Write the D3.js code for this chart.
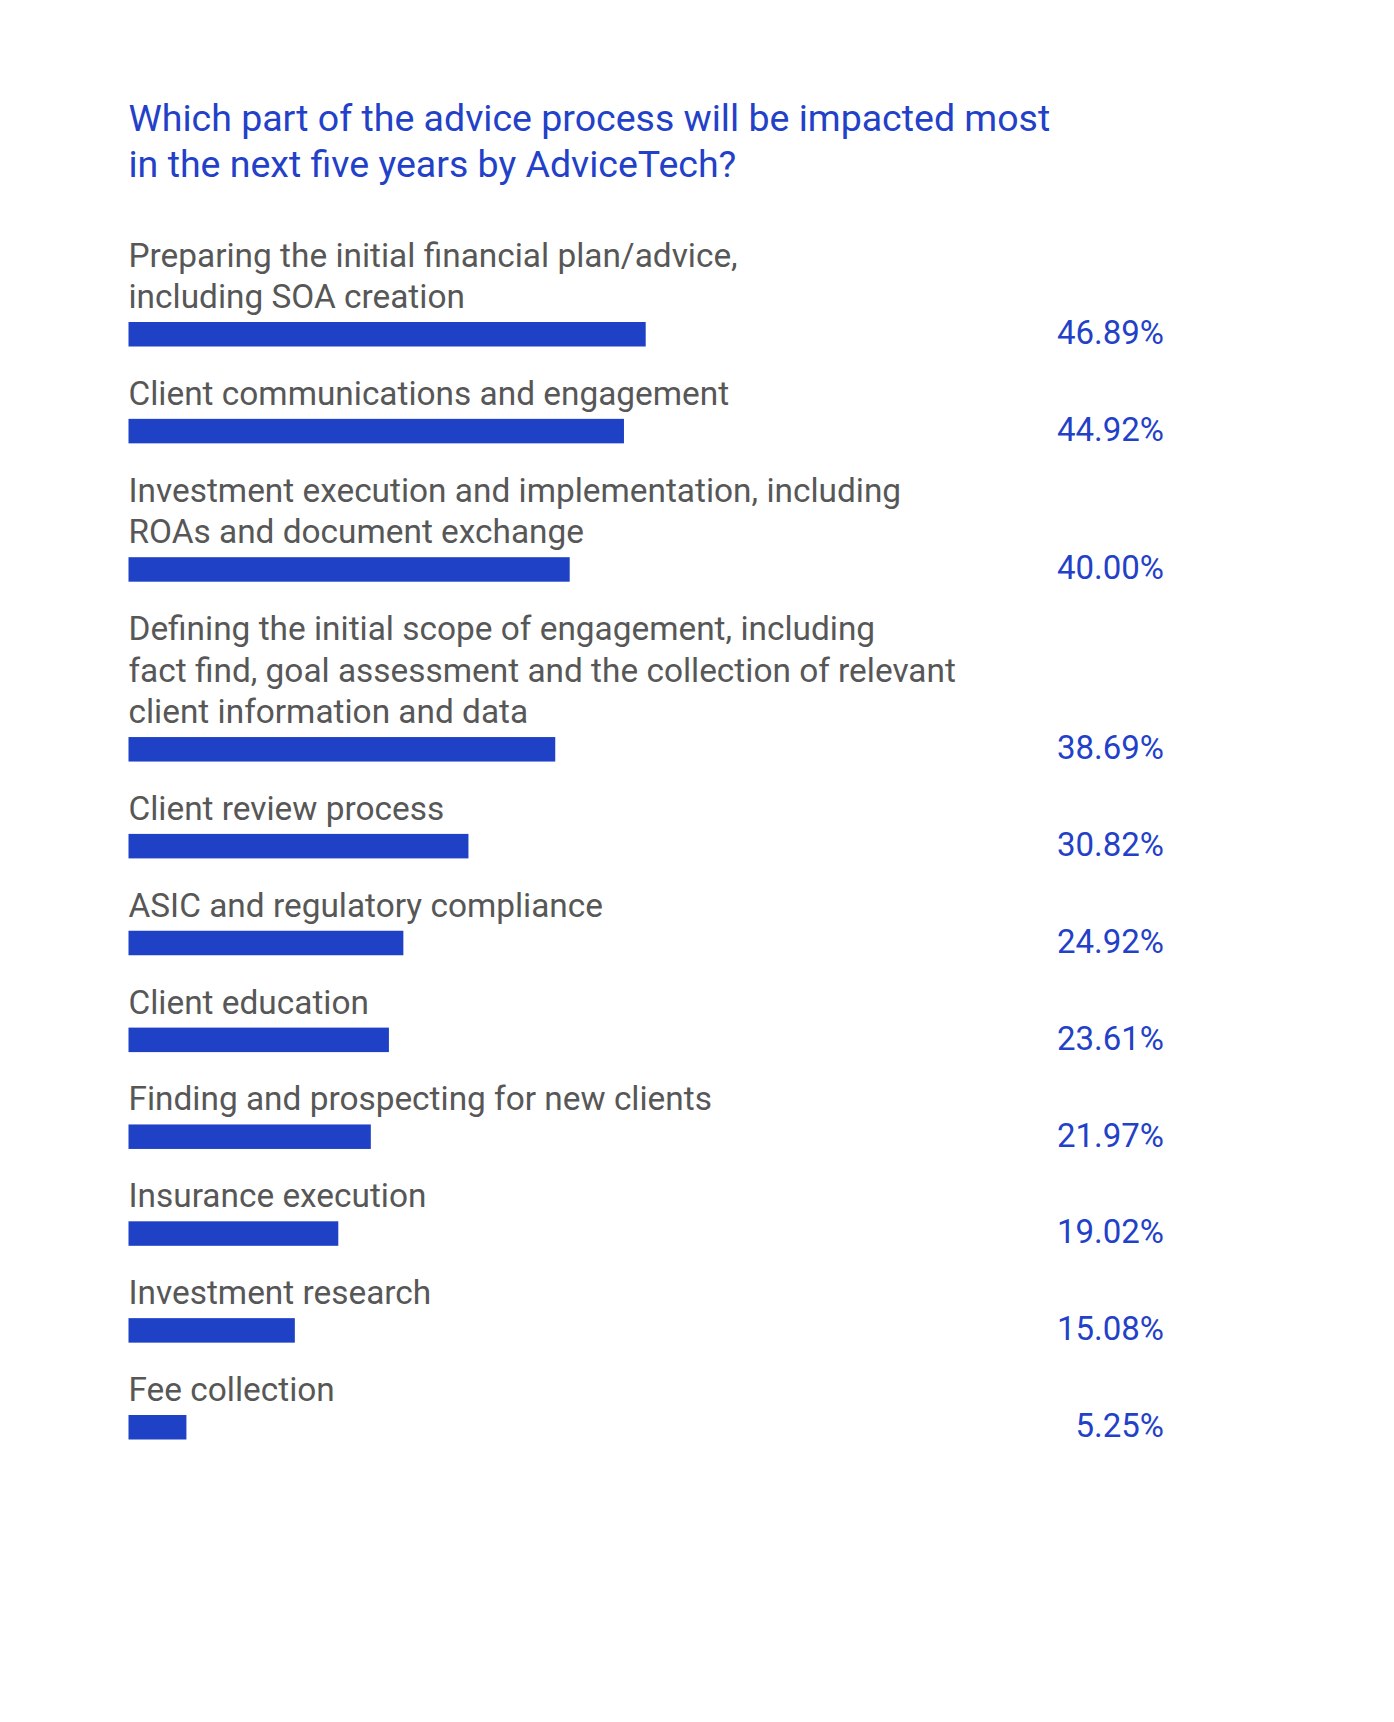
<!DOCTYPE html>
<html>
<head>
<meta charset="utf-8">
<script src="https://cdn.jsdelivr.net/npm/d3@7/dist/d3.min.js"></script>
<style>
  html, body { margin: 0; padding: 0; background: #ffffff; }
  svg { display: block; }
</style>
</head>
<body>
<svg id="chart" width="1394" height="1722"></svg>
<script>
// ---- Data ----
const titleLines = [
  "Which part of the advice process will be impacted most",
  "in the next five years by AdviceTech?"
];
const categories = [
  ["Preparing the initial financial plan/advice,", "including SOA creation"],
  ["Client communications and engagement"],
  ["Investment execution and implementation, including", "ROAs and document exchange"],
  ["Defining the initial scope of engagement, including", "fact find, goal assessment and the collection of relevant", "client information and data"],
  ["Client review process"],
  ["ASIC and regulatory compliance"],
  ["Client education"],
  ["Finding and prospecting for new clients"],
  ["Insurance execution"],
  ["Investment research"],
  ["Fee collection"]
];
const values = [46.89, 44.92, 40.00, 38.69, 30.82, 24.92, 23.61, 21.97, 19.02, 15.08, 5.25];
const valueLabels = ["46.89%", "44.92%", "40.00%", "38.69%", "30.82%", "24.92%", "23.61%", "21.97%", "19.02%", "15.08%", "5.25%"];

// ---- Layout ----
const left = 128.5;
const valueRight = 1164;
const firstBarTop = 322;
const step = 96.85;
const lineH = 41.5;
const barH = 24.5;
const blue = "#1f41c6";
const textBlue = "#2341c8";
const gray = "#575757";
const font = "Roboto, 'Open Sans', sans-serif";

const svg = d3.select("#chart");

const x = d3.scaleLinear().domain([0, 50]).range([0, 551.5]);

// vertical positions: each item gets a step plus extra lines for its wrapped label
let extra = 0;
const rows = categories.map((lines, i) => {
  if (i > 0) extra += lines.length - 1;
  return { lines, value: values[i], label: valueLabels[i], barTop: firstBarTop + i * step + extra * lineH };
});

// Title
svg.append("text")
  .attr("font-family", font)
  .attr("font-size", 37.5)
  .attr("fill", textBlue)
  .selectAll("tspan")
  .data(titleLines)
  .join("tspan")
  .attr("x", left)
  .attr("y", (d, i) => 130.5 + i * 46)
  .text(d => d);

const g = svg.append("g").selectAll("g").data(rows).join("g");

// Category labels (last line baseline 14px above the bar)
g.append("text")
  .attr("font-family", font)
  .attr("font-size", 33.4)
  .attr("fill", gray)
  .each(function(d) {
    const t = d3.select(this);
    const n = d.lines.length;
    d.lines.forEach((line, j) => {
      t.append("tspan")
        .attr("x", left)
        .attr("y", d.barTop - 14 - (n - 1 - j) * lineH)
        .text(line);
    });
  });

// Bars
g.append("rect")
  .attr("x", left)
  .attr("y", d => d.barTop)
  .attr("width", d => x(d.value))
  .attr("height", barH)
  .attr("fill", blue);

// Value labels
g.append("text")
  .attr("x", valueRight)
  .attr("y", d => d.barTop + barH / 2)
  .attr("dy", "0.3em")
  .attr("text-anchor", "end")
  .attr("font-family", font)
  .attr("font-size", 33)
  .attr("fill", textBlue)
  .text(d => d.label);
</script>
</body>
</html>
